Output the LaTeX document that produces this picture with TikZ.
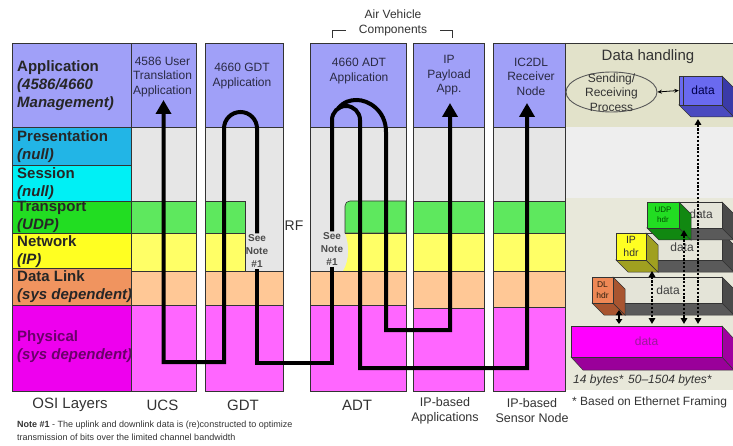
\documentclass[tikz,border=0pt]{standalone}
\usepackage{fontspec}
\setmainfont{Liberation Sans}
\usetikzlibrary{arrows.meta,shapes.geometric}

% layer colours (OSI reference column)
\definecolor{osiApp}{HTML}{A0A0F8}
\definecolor{osiPres}{HTML}{22B5E6}
\definecolor{osiSess}{HTML}{00F0F5}
\definecolor{osiTrans}{HTML}{22DD22}
\definecolor{osiNet}{HTML}{FFFF22}
\definecolor{osiDL}{HTML}{F0945F}
\definecolor{osiPhy}{HTML}{EE00EE}
% layer colours (system columns)
\definecolor{colApp}{HTML}{A0A0F8}
\definecolor{colGray}{HTML}{E6E6E6}
\definecolor{colGreen}{HTML}{5EE85E}
\definecolor{colYellow}{HTML}{FFFF66}
\definecolor{colPeach}{HTML}{FFC896}
\definecolor{colPink}{HTML}{FF66FF}
% data handling panel
\definecolor{dhTop}{HTML}{E2E2CA}
\definecolor{dhMid}{HTML}{EEEEEE}
\definecolor{dhLow}{HTML}{E8E8DA}
\definecolor{edge}{HTML}{333333}
\definecolor{txt}{HTML}{333333}
\definecolor{hdrTxt}{HTML}{2A2A44}
\definecolor{phyTxt}{HTML}{6A006A}
\definecolor{blueFront}{HTML}{6A6AF0}
\definecolor{blueSide}{HTML}{3A3AA8}
\definecolor{blueBottom}{HTML}{4A4AC0}
\definecolor{pktFront}{HTML}{E4E4D8}
\definecolor{pktSide}{HTML}{4A4A4A}
\definecolor{pktBottom}{HTML}{5A5A5A}
\definecolor{udpFront}{HTML}{22DD22}
\definecolor{udpSide}{HTML}{118811}
\definecolor{ipFront}{HTML}{FFFF22}
\definecolor{ipSide}{HTML}{A0A020}
\definecolor{dlFront}{HTML}{EE8855}
\definecolor{dlSide}{HTML}{A85530}
\definecolor{frameFront}{HTML}{FF00FF}
\definecolor{frameSide}{HTML}{A000A0}
\definecolor{frameBottom}{HTML}{9A009A}
\definecolor{frameTxt}{HTML}{9A1A9A}

% side and bottom faces of an extruded block: x1 y1 x2 y2 side bottom
\newcommand{\blocksides}[6]{%
  \filldraw[face, fill=#6] (#1,#4) -- (#3,#4) -- (#3+12,#4+12) -- (#1+12,#4+12) -- cycle;
  \filldraw[face, fill=#5] (#3,#2) -- (#3+12,#2+12) -- (#3+12,#4+12) -- (#3,#4) -- cycle;
}

\begin{document}
\begin{tikzpicture}[x=1pt,y=-1pt,
  cell/.style={draw=edge, line width=0.6pt},
  face/.style={draw=edge, line width=0.5pt},
  front/.style={face, inner sep=0pt, rectangle},
  osilbl/.style={anchor=west, align=left, inner sep=0pt, text=black!85,
    font=\fontsize{15}{18}\selectfont\bfseries},
  hdr/.style={align=center, inner sep=0pt, text=hdrTxt,
    font=\fontsize{12}{14.5}\selectfont},
  caption/.style={align=center, inner sep=0pt, text=txt,
    font=\fontsize{15}{18}\selectfont},
  subcaption/.style={align=center, inner sep=0pt, text=txt,
    font=\fontsize{12.5}{15}\selectfont},
  seenote/.style={align=center, inner sep=1pt, text=black!70,
    font=\fontsize{10}{13}\selectfont\bfseries},
  flow/.style={line width=4pt, draw=black},
  flowarrow/.style={flow, -{Triangle[length=14pt,width=15pt]}},
  dotarrow/.style={line width=1.6pt, dash pattern=on 2.2pt off 1.6pt,
    {Triangle[length=6pt,width=6.5pt]}-{Triangle[length=6pt,width=6.5pt]}},
  pkttxt/.style={text=black!75, font=\fontsize{12}{14}\selectfont}
]
\path[use as bounding box] (0,0) rectangle (733,446);
\clip (0,0) rectangle (733,446);
\fill[white] (0,0) rectangle (733,446);

% ---------------- OSI reference column ----------------
\filldraw[cell, fill=osiApp]   (12,43)  rectangle (131,127);
\filldraw[cell, fill=osiPres]  (12,127) rectangle (131,165);
\filldraw[cell, fill=osiSess]  (12,165) rectangle (131,201);
\filldraw[cell, fill=osiTrans] (12,201) rectangle (131,233);
\filldraw[cell, fill=osiNet]   (12,233) rectangle (131,268);
\filldraw[cell, fill=osiDL]    (12,268) rectangle (131,305);
\filldraw[cell, fill=osiPhy]   (12,305) rectangle (131,391);

\node[osilbl] (lapp)  at (17,86)  {Application\\\textit{(4586/4660}\\\textit{Management)}};
\node[osilbl] (lpres) at (17,147) {Presentation\\\textit{(null)}};
\node[osilbl] (lsess) at (17,184) {Session\\\textit{(null)}};
\node[osilbl] (ltran) at (17,217) {Transport\\\textit{(UDP)}};
\node[osilbl] (lnet)  at (17,252) {Network\\\textit{(IP)}};
\node[osilbl] (ldl)   at (17,287) {Data Link\\\textit{(sys dependent)}};
\node[osilbl, text=phyTxt] (lphy) at (17,347) {Physical\\\textit{(sys dependent)}};

% ---------------- UCS column ----------------
\filldraw[cell, fill=colApp]    (131,43)  rectangle (196,127);
\filldraw[cell, fill=colGray]   (131,127) rectangle (196,201);
\filldraw[cell, fill=colGreen]  (131,201) rectangle (196,233);
\filldraw[cell, fill=colYellow] (131,233) rectangle (196,271);
\filldraw[cell, fill=colPeach]  (131,271) rectangle (196,305);
\filldraw[cell, fill=colPink]   (131,305) rectangle (196,391);

% ---------------- GDT column ----------------
\filldraw[cell, fill=colApp]    (205,43)  rectangle (283,127);
\filldraw[cell, fill=colGray]   (205,127) rectangle (283,271);
\filldraw[cell, fill=colGreen]  (205,201) rectangle (245,233);
\filldraw[cell, fill=colYellow] (205,233) rectangle (245,271);
\filldraw[cell, fill=colPeach]  (205,271) rectangle (283,305);
\filldraw[cell, fill=colPink]   (205,305) rectangle (283,391);

% ---------------- ADT column ----------------
\filldraw[cell, fill=colApp]    (310,43)  rectangle (406,127);
\filldraw[cell, fill=colGray]   (310,127) rectangle (406,271);
\filldraw[cell, fill=colGreen]  (406,201) -- (350,201)
  .. controls (347,201) and (345,203) .. (345,206) -- (345,233) -- (406,233) -- cycle;
\fill[colYellow] (406,233) -- (345,233)
  .. controls (349,243) and (350,260) .. (343,271) -- (406,271) -- cycle;
\draw[cell] (345,233) -- (406,233) -- (406,271);
\filldraw[cell, fill=colPeach]  (310,271) rectangle (406,305);
\filldraw[cell, fill=colPink]   (310,305) rectangle (406,391);
\draw[cell] (310,43) rectangle (406,391);

% ---------------- IP payload column ----------------
\filldraw[cell, fill=colApp]    (413,43)  rectangle (484,127);
\filldraw[cell, fill=colGray]   (413,127) rectangle (484,201);
\filldraw[cell, fill=colGreen]  (413,201) rectangle (484,233);
\filldraw[cell, fill=colYellow] (413,233) rectangle (484,271);
\filldraw[cell, fill=colPeach]  (413,271) rectangle (484,308);
\filldraw[cell, fill=colPink]   (413,308) rectangle (484,391);

% ---------------- IC2DL receiver column ----------------
\filldraw[cell, fill=colApp]    (493,43)  rectangle (565,127);
\filldraw[cell, fill=colGray]   (493,127) rectangle (565,201);
\filldraw[cell, fill=colGreen]  (493,201) rectangle (565,233);
\filldraw[cell, fill=colYellow] (493,233) rectangle (565,271);
\filldraw[cell, fill=colPeach]  (493,271) rectangle (565,307);
\filldraw[cell, fill=colPink]   (493,307) rectangle (565,391);

% ---------------- data handling panel ----------------
\fill[dhTop] (565,43)  rectangle (733,127);
\fill[dhMid] (565,127) rectangle (733,198);
\fill[dhLow] (565,198) rectangle (733,390);
\draw[cell] (565,43) -- (733,43);
\draw[cell] (565,43) -- (565,391);

% column headers
\node[hdr] (ucshdr) at (162.5,77) {4586 User\\Translation\\Application};
\node[hdr] (gdthdr) at (242,76)   {4660 GDT\\Application};
\node[hdr] (adthdr) at (359,71)   {4660 ADT\\Application};
\node[hdr] (iphdr)  at (449,75.5) {IP\\Payload\\App.};
\node[hdr] (rxhdr)  at (531,76.5) {IC2DL\\Receiver\\Node};
\node[text=txt, inner sep=0pt, font=\fontsize{15}{18}\selectfont] (dhhdr) at (648,57) {Data handling};

% air vehicle bracket
\node[align=center, inner sep=0pt, text=txt, font=\fontsize{12}{15}\selectfont] (avc) at (393,23) {Air Vehicle\\Components};
\draw[edge, line width=0.8pt] (332,38) -- (332,30) -- (346,30);
\draw[edge, line width=0.8pt] (440,30) -- (452,30) -- (452,38);

% RF gap label
\node[text=txt, inner sep=0pt, font=\fontsize{14}{16}\selectfont] (rf) at (294,226) {RF};

% note markers
\node[seenote] (gdtnote) at (257,251) {See\\Note\\\#1};
\node[seenote] (adtnote) at (332,249) {See\\Note\\\#1};

% arrow targets
\coordinate (ucsTip) at (163.5,100);
\coordinate (ipTip)  at (450,103);
\coordinate (rxTip)  at (527,103);
\coordinate (adtLoop) at (338,108.5);

% ---------------- data flows ----------------
% GDT up-turn down to the UCS application
\draw[flowarrow] (gdtnote.north) -- (257,128.5)
  .. controls (257,119.4) and (249.6,112) .. (240.5,112)
  .. controls (231.4,112) and (224,119.4) .. (224,128.5)
  -- (224,362) -- (163.5,362) -- (ucsTip);
% RF link between ADT and GDT
\draw[flow] (adtnote.south) -- (332,363) -- (257,363) -- (gdtnote.south);
% ADT up-turn to the IC2DL receiver node
\draw[flowarrow] (adtnote.north) -- (332,120)
  .. controls (332,112.3) and (338.3,106) .. (346,106)
  .. controls (353.7,106) and (360,112.3) .. (360,120)
  -- (360,368) -- (527,368) -- (rxTip);
% ADT branch to the IP payload application
\draw[flowarrow] (adtLoop) .. controls (344,101.5) and (350,100) .. (357,100)
  .. controls (368,100) and (386,110) .. (386,132)
  -- (386,330) -- (450,330) -- (ipTip);

% ---------------- sending / receiving process ----------------
\node[ellipse, draw=black!65, line width=0.9pt, fill=dhTop, minimum width=91pt,
      minimum height=40pt, inner sep=0pt] (sendrecv) at (611.5,92) {};
\node[align=center, inner sep=0pt, text=txt, font=\fontsize{12}{14.5}\selectfont] (sendtxt) at (611.5,92.5) {Sending/\\Receiving\\Process};

% application data block
\blocksides{679}{76}{722}{105}{blueSide}{blueBottom}
\node[front, fill=blueFront, minimum width=43pt, minimum height=29pt,
      text=blue!30!black, font=\fontsize{12}{14}\selectfont] (bluedata) at (700.5,90.5) {\hspace{5pt}data};
\draw[edge, line width=0.6pt] (683.5,76) -- (683.5,105);
\draw[line width=0.8pt, {Stealth[length=4.5pt,width=4pt]}-{Stealth[length=4.5pt,width=4pt]}] (sendrecv.east) -- (bluedata.west);

% data link frame
\blocksides{613}{277}{722}{303}{pktSide}{pktBottom}
\node[front, fill=pktFront, minimum width=109pt, minimum height=26pt] (dldata) at (667.5,290) {};
\node[pkttxt] (dldatatxt) at (668,290) {data};
\blocksides{592}{277}{613}{303}{dlSide}{dlSide}
\node[front, fill=dlFront, minimum width=21pt, minimum height=26pt, align=center,
      text=black!75!brown, font=\fontsize{8.5}{11}\selectfont] (dlhdr) at (602.5,290) {DL\\hdr};

% IP packet
\blocksides{646}{233}{722}{260}{pktSide}{pktBottom}
\node[front, fill=pktFront, minimum width=76pt, minimum height=27pt] (ipdata) at (684,246.5) {};
\node[pkttxt] (ipdatatxt) at (682,247) {data};
\blocksides{616}{233}{646}{260}{ipSide}{ipSide}
\node[front, fill=ipFront, minimum width=30pt, minimum height=27pt, align=center,
      text=black!80, font=\fontsize{10.5}{12.5}\selectfont] (iphdrbox) at (631,246.5) {IP\\hdr};

% UDP datagram
\blocksides{679}{202}{722}{228}{pktSide}{pktBottom}
\node[front, fill=pktFront, minimum width=43pt, minimum height=26pt] (udpdata) at (700.5,215) {};
\node[pkttxt] (udpdatatxt) at (701,214.5) {data};
\blocksides{647}{202}{679}{228}{udpSide}{udpSide}
\node[front, fill=udpFront, minimum width=32pt, minimum height=26pt, align=center,
      text=green!30!black, font=\fontsize{8}{10.5}\selectfont] (udphdr) at (663,215) {UDP\\hdr};

% physical frame on the wire
\filldraw[face, fill=frameBottom] (571,357) -- (722,357) -- (734,370) -- (583,370) -- cycle;
\filldraw[face, fill=frameSide] (722,326) -- (734,339) -- (734,370) -- (722,357) -- cycle;
\node[front, fill=frameFront, minimum width=151pt, minimum height=31pt,
      text=frameTxt, font=\fontsize{12}{14}\selectfont] (frame) at (646.5,341.5) {data};

% encapsulation links
\coordinate (blueBot) at (698,119);
\coordinate (frameA)  at (698,324);
\coordinate (udpBot)  at (684,230);
\coordinate (frameB)  at (684,324);
\coordinate (ipBot)   at (652,271);
\coordinate (frameC)  at (652,324);
\coordinate (dlBot)   at (619,310);
\coordinate (frameD)  at (619,324);
\draw[dotarrow] (blueBot) -- (frameA);
\draw[dotarrow] (udpBot) -- (frameB);
\draw[dotarrow] (ipBot) -- (frameC);
\draw[line width=1.6pt, {Triangle[length=5pt,width=6.5pt]}-{Triangle[length=5pt,width=6.5pt]}] (dlBot) -- (frameD);

\node[anchor=west, inner sep=0pt, text=txt, font=\fontsize{12}{14}\selectfont\itshape] (bytes) at (573,380) {14 bytes*\hspace{5pt}50--1504 bytes*};

% ---------------- captions ----------------
\node[caption] (cosi) at (70,405)  {OSI Layers};
\node[caption] (cucs) at (162.5,405) {UCS};
\node[caption] (cgdt) at (243,405) {GDT};
\node[caption] (cadt) at (357,405) {ADT};
\node[subcaption] (cipapp) at (445,411) {IP-based\\Applications};
\node[subcaption] (csens)  at (532,411) {IP-based\\Sensor Node};
\node[anchor=west, inner sep=0pt, text=txt, font=\fontsize{12}{14}\selectfont] (eth) at (572,402) {* Based on Ethernet Framing};
\node[anchor=west, align=left, inner sep=0pt, text=txt, font=\fontsize{9}{13}\selectfont] (note) at (17,430.5)
  {\textbf{Note \#1} - The uplink and downlink data is (re)constructed to optimize\\transmission of bits over the limited channel bandwidth};
\end{tikzpicture}
\end{document}
